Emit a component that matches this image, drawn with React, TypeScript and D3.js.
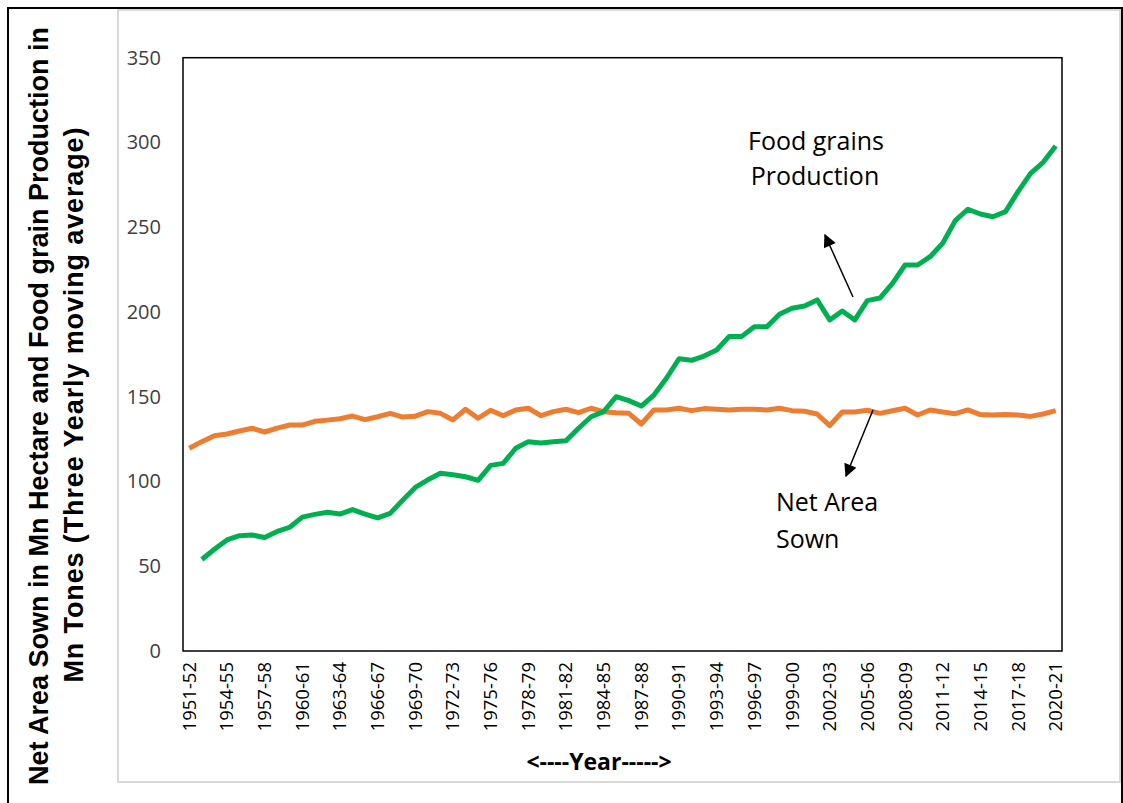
import React from 'react';
import * as d3 from 'd3';

// crop years (x categories)
const years = [
  '1951-52', '1952-53', '1953-54', '1954-55', '1955-56', '1956-57', '1957-58', '1958-59', '1959-60', '1960-61',
  '1961-62', '1962-63', '1963-64', '1964-65', '1965-66', '1966-67', '1967-68', '1968-69', '1969-70', '1970-71',
  '1971-72', '1972-73', '1973-74', '1974-75', '1975-76', '1976-77', '1977-78', '1978-79', '1979-80', '1980-81',
  '1981-82', '1982-83', '1983-84', '1984-85', '1985-86', '1986-87', '1987-88', '1988-89', '1989-90', '1990-91',
  '1991-92', '1992-93', '1993-94', '1994-95', '1995-96', '1996-97', '1997-98', '1998-99', '1999-00', '2000-01',
  '2001-02', '2002-03', '2003-04', '2004-05', '2005-06', '2006-07', '2007-08', '2008-09', '2009-10', '2010-11',
  '2011-12', '2012-13', '2013-14', '2014-15', '2015-16', '2016-17', '2017-18', '2018-19', '2019-20', '2020-21',
];

// Net area sown (Mn hectare)
const netAreaSown = [
  119.6, 123.5, 127, 128, 129.8, 131.4, 129.2, 131.5, 133.3, 133.3,
  135.5, 136.2, 137, 138.6, 136.5, 138.2, 140.2, 138, 138.5, 141.2,
  140.2, 136.3, 142.6, 137.3, 142, 138.8, 142.2, 143.2, 138.8, 141.2,
  142.6, 140.6, 143.2, 141.2, 140.6, 140.2, 133.9, 142.2, 142.2, 143.2,
  141.8, 143, 142.6, 142.2, 142.6, 142.6, 142.2, 143.2, 141.8, 141.4,
  139.8, 133, 141, 141, 142, 140.2, 141.7, 143.2, 139.2, 142.2,
  141, 140, 142.2, 139.5, 139.2, 139.5, 139.2, 138.4, 139.8, 141.8,
];

// Food grains production (Mn tonnes, 3-yr moving average)
const foodGrains: (number | null)[] = [
  null, 54, 60, 65.5, 68, 68.4, 67, 70.5, 73, 79,
  80.6, 81.8, 80.8, 83.4, 80.8, 78.5, 81.2, 89, 96.5, 101,
  104.8, 104, 102.8, 100.7, 109.5, 110.7, 119.6, 123.5, 122.7, 123.5,
  124, 131.4, 138.2, 141.2, 150, 147.7, 144.5, 151, 160.9, 172.4,
  171.5, 174, 177.6, 185.6, 185.6, 191.3, 191.3, 198.7, 202.2, 203.5,
  207.1, 195.3, 200.6, 195.3, 206.7, 208.2, 216.9, 227.7, 227.7, 232.6,
  240.5, 253.9, 260.6, 257.8, 256.2, 259.2, 271, 281.8, 288.3, 297.9,
];

const yTicks = [0, 50, 100, 150, 200, 250, 300, 350];

const plot = { left: 183, right: 1062, top: 57.7, bottom: 651 };

export default function App() {
  const x = d3.scalePoint<string>().domain(years).range([plot.left, plot.right]).padding(0.5);
  const y = d3.scaleLinear().domain([0, 350]).range([plot.bottom, plot.top]);

  const line = d3.line<number | null>()
    .defined(d => d != null)
    .x((_, i) => x(years[i]) as number)
    .y(d => y(d as number));

  const tickFont = "'Open Sans', 'DejaVu Sans', sans-serif";

  return (
    <svg width={1123} height={803} style={{ position: 'absolute', left: 0, top: 0, background: '#fff' }}>
      <defs>
        <marker id="arrow" viewBox="0 0 10 10" refX="9" refY="5" markerWidth="15" markerHeight="13"
          markerUnits="userSpaceOnUse" orient="auto">
          <path d="M0,0 L10,5 L0,10 z" fill="#000" />
        </marker>
      </defs>

      {/* outer frame + chart area frame */}
      <rect x={8} y={8} width={1114} height={820} fill="none" stroke="#000" strokeWidth={2} />
      <rect x={118} y={10} width={1002} height={772} fill="#fff" stroke="#d9d9d9" strokeWidth={2} />

      {/* y ticks */}
      {yTicks.map(t => (
        <text key={t} x={161} y={y(t)} dy="0.35em" textAnchor="end" fontSize={20}
          fontFamily={tickFont} fill="#404040">{t}</text>
      ))}

      {/* x tick labels, every third year */}
      {years.filter((_, i) => i % 3 === 0).map(c => (
        <text key={c} transform={`translate(${x(c)},662) rotate(-90)`} dy="0.35em" textAnchor="end"
          fontSize={18.5} fontFamily={tickFont} fill="#000">{c}</text>
      ))}

      <rect x={plot.left} y={plot.top} width={plot.right - plot.left} height={plot.bottom - plot.top}
        fill="none" stroke="#000" strokeWidth={1.5} />

      <path d={line(netAreaSown) || ''} fill="none" stroke="#ED7D31" strokeWidth={5} strokeLinejoin="round" />
      <path d={line(foodGrains) || ''} fill="none" stroke="#00B050" strokeWidth={5} strokeLinejoin="round" />

      {/* annotations */}
      <text x={816} y={150} textAnchor="middle" fontSize={25} fontFamily={tickFont} fill="#000">Food grains</text>
      <text x={815} y={185} textAnchor="middle" fontSize={25} fontFamily={tickFont} fill="#000">Production</text>
      <line x1={853} y1={297} x2={825} y2={235} stroke="#000" strokeWidth={1.5} markerEnd="url(#arrow)" />

      <text x={776} y={511} fontSize={25} fontFamily={tickFont} fill="#000">Net Area</text>
      <text x={776} y={548} fontSize={25} fontFamily={tickFont} fill="#000">Sown</text>
      <line x1={873} y1={410} x2={846} y2={476} stroke="#000" strokeWidth={1.5} markerEnd="url(#arrow)" />

      {/* axis titles */}
      <text x={599} y={770} textAnchor="middle" fontSize={23} fontWeight="bold"
        fontFamily={tickFont} fill="#000">{'<----Year----->'}</text>
      <g fontFamily="'Liberation Sans', Arial, sans-serif" fontWeight="bold" fontSize={27} fill="#000" textAnchor="middle">
        <text transform="translate(48,406) rotate(-90)">Net Area Sown in Mn Hectare and Food grain Production in</text>
        <text transform="translate(83,405) rotate(-90)" textLength={555} lengthAdjust="spacing">
          Mn Tones (Three Yearly moving average)
        </text>
      </g>
    </svg>
  );
}
